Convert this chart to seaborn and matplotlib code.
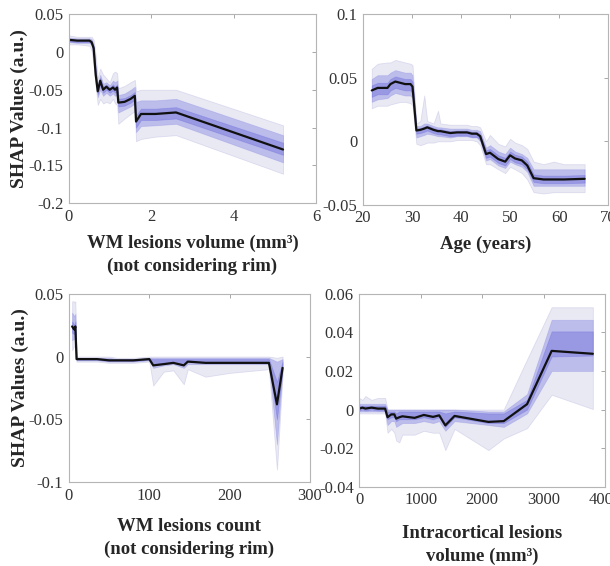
import pandas as pd
import matplotlib
matplotlib.use('Agg')
import matplotlib.pyplot as plt
import matplotlib.ticker as mticker
import seaborn as sns

# -----------------------------------------------
# Data (median + three quantile bands per panel)
# -----------------------------------------------
# WM lesions volume
vol_x = [0.0, 0.2, 0.4, 0.5, 0.55, 0.6, 0.65, 0.7, 0.76, 0.83, 0.91, 0.99, 1.07, 1.12, 1.17, 1.2, 1.35, 1.5, 1.6, 1.63, 1.75, 2.1, 2.6, 5.2]
vol_med = [0.016, 0.015, 0.015, 0.015, 0.013, 0.005, -0.030, -0.052, -0.038, -0.050, -0.046, -0.050, -0.047, -0.050, -0.047, -0.067, -0.066, -0.062, -0.058, -0.092, -0.082, -0.082, -0.080, -0.129]
vol_out_hi = [0.022, 0.020, 0.020, 0.020, 0.020, 0.016, -0.005, -0.035, -0.022, -0.030, -0.035, -0.040, -0.028, -0.026, -0.028, -0.048, -0.045, -0.040, -0.037, -0.052, -0.050, -0.050, -0.050, -0.097]
vol_out_lo = [0.010, 0.010, 0.009, 0.008, 0.002, -0.018, -0.045, -0.070, -0.062, -0.068, -0.066, -0.068, -0.062, -0.068, -0.070, -0.095, -0.088, -0.082, -0.078, -0.118, -0.115, -0.112, -0.110, -0.161]
vol_mid_hi = [0.019, 0.018, 0.018, 0.018, 0.017, 0.010, -0.020, -0.044, -0.030, -0.042, -0.040, -0.044, -0.038, -0.040, -0.038, -0.057, -0.055, -0.050, -0.046, -0.066, -0.064, -0.064, -0.062, -0.110]
vol_mid_lo = [0.013, 0.012, 0.012, 0.012, 0.009, -0.004, -0.038, -0.060, -0.050, -0.058, -0.054, -0.058, -0.055, -0.058, -0.057, -0.080, -0.076, -0.072, -0.068, -0.106, -0.098, -0.097, -0.095, -0.146]
vol_in_hi = [0.017, 0.016, 0.016, 0.016, 0.015, 0.008, -0.026, -0.048, -0.034, -0.046, -0.043, -0.047, -0.043, -0.046, -0.043, -0.062, -0.061, -0.057, -0.053, -0.084, -0.075, -0.075, -0.073, -0.120]
vol_in_lo = [0.014, 0.013, 0.013, 0.013, 0.011, 0.001, -0.034, -0.056, -0.043, -0.054, -0.050, -0.054, -0.051, -0.054, -0.051, -0.072, -0.071, -0.067, -0.063, -0.100, -0.090, -0.090, -0.088, -0.136]

# Age
age_x = [21.8, 23, 25, 25.6, 26.6, 27.6, 28.6, 29.7, 30.1, 30.9, 31.7, 32.5, 33.1, 34.4, 35.3, 35.8, 37.8, 39.2, 41.2, 42.2, 43.2, 43.9, 45.1, 45.9, 47.6, 49.0, 50.0, 51.0, 52.4, 53.5, 54.8, 56.8, 58.9, 61.0, 65.2]
age_med = [0.040, 0.042, 0.042, 0.045, 0.047, 0.046, 0.045, 0.045, 0.043, 0.0085, 0.009, 0.010, 0.011, 0.009, 0.008, 0.008, 0.0065, 0.007, 0.007, 0.006, 0.006, 0.004, -0.010, -0.009, -0.014, -0.016, -0.011, -0.0135, -0.015, -0.019, -0.029, -0.030, -0.030, -0.030, -0.0295]
age_out_hi = [0.057, 0.061, 0.062, 0.062, 0.064, 0.063, 0.062, 0.061, 0.060, 0.014, 0.016, 0.036, 0.016, 0.014, 0.024, 0.014, 0.013, 0.013, 0.013, 0.012, 0.012, 0.011, 0.000, 0.005, -0.002, -0.004, 0.002, -0.001, -0.003, -0.006, -0.016, -0.018, -0.016, -0.018, -0.018]
age_out_lo = [0.026, 0.028, 0.028, 0.029, 0.030, 0.031, 0.031, 0.030, 0.028, -0.002, -0.003, -0.002, -0.001, -0.001, 0.000, 0.000, 0.000, 0.001, 0.001, 0.001, 0.000, -0.003, -0.018, -0.018, -0.022, -0.025, -0.020, -0.022, -0.025, -0.030, -0.040, -0.041, -0.040, -0.040, -0.040]
age_mid_hi = [0.049, 0.052, 0.052, 0.054, 0.056, 0.055, 0.054, 0.054, 0.052, 0.012, 0.012, 0.014, 0.014, 0.012, 0.011, 0.011, 0.010, 0.010, 0.010, 0.009, 0.009, 0.008, -0.005, -0.003, -0.008, -0.010, -0.005, -0.008, -0.010, -0.013, -0.022, -0.022, -0.022, -0.022, -0.022]
age_mid_lo = [0.031, 0.033, 0.034, 0.036, 0.038, 0.037, 0.036, 0.036, 0.034, 0.003, 0.004, 0.005, 0.006, 0.005, 0.004, 0.004, 0.003, 0.004, 0.004, 0.003, 0.003, 0.000, -0.015, -0.014, -0.019, -0.021, -0.016, -0.018, -0.020, -0.024, -0.035, -0.035, -0.035, -0.035, -0.035]
age_in_hi = [0.044, 0.046, 0.046, 0.049, 0.051, 0.050, 0.049, 0.049, 0.047, 0.010, 0.0105, 0.0115, 0.0125, 0.0105, 0.0095, 0.0095, 0.008, 0.0085, 0.0085, 0.0075, 0.0075, 0.0055, -0.007, -0.006, -0.011, -0.013, -0.008, -0.0105, -0.012, -0.016, -0.026, -0.027, -0.027, -0.027, -0.0265]
age_in_lo = [0.035, 0.037, 0.037, 0.040, 0.042, 0.041, 0.040, 0.040, 0.038, 0.006, 0.0065, 0.0075, 0.0085, 0.0065, 0.0055, 0.0055, 0.004, 0.0045, 0.0045, 0.0035, 0.0035, 0.0015, -0.013, -0.012, -0.017, -0.019, -0.014, -0.0165, -0.018, -0.022, -0.032, -0.033, -0.033, -0.033, -0.0325]

# WM lesions count
cnt_x = [4, 6, 7, 8, 9.5, 20, 35, 50, 60, 80, 100, 105, 118, 130, 143, 148, 170, 200, 249, 259, 266]
cnt_med = [0.024, 0.022, 0.0215, 0.024, -0.002, -0.002, -0.002, -0.003, -0.003, -0.003, -0.002, -0.007, -0.006, -0.005, -0.007, -0.004, -0.005, -0.005, -0.005, -0.038, -0.009]
cnt_out_hi = [0.044, 0.044, 0.043, 0.044, 0.000, 0.000, 0.000, 0.000, -0.001, -0.001, 0.000, 0.000, 0.000, 0.000, 0.000, 0.000, 0.000, 0.000, 0.000, -0.001, 0.000]
cnt_out_lo = [0.005, 0.008, 0.008, 0.010, -0.004, -0.004, -0.004, -0.005, -0.005, -0.005, -0.004, -0.023, -0.012, -0.011, -0.022, -0.010, -0.016, -0.013, -0.010, -0.090, -0.014]
cnt_mid_hi = [0.035, 0.033, 0.032, 0.034, -0.001, -0.001, -0.001, -0.001, -0.002, -0.002, -0.001, -0.001, -0.001, -0.001, -0.001, -0.001, -0.001, -0.001, -0.001, -0.004, -0.002]
cnt_mid_lo = [0.013, 0.014, 0.014, 0.016, -0.003, -0.003, -0.003, -0.004, -0.004, -0.004, -0.003, -0.009, -0.007, -0.006, -0.009, -0.006, -0.006, -0.006, -0.006, -0.070, -0.011]
cnt_in_hi = [0.028, 0.026, 0.025, 0.028, -0.0015, -0.0015, -0.0015, -0.002, -0.002, -0.002, -0.0015, -0.002, -0.002, -0.002, -0.002, -0.002, -0.002, -0.002, -0.002, -0.020, -0.004]
cnt_in_lo = [0.019, 0.018, 0.018, 0.020, -0.0025, -0.0025, -0.0025, -0.0035, -0.0035, -0.0035, -0.0025, -0.007, -0.006, -0.005, -0.007, -0.004, -0.005, -0.005, -0.005, -0.050, -0.010]

# Intracortical lesions volume
icv_x = [0, 50, 100, 200, 300, 420, 460, 520, 570, 600, 650, 700, 900, 1050, 1200, 1300, 1400, 1550, 2100, 2350, 2730, 3130, 3800]
icv_med = [0.0005, 0.001, 0.0005, 0.001, 0.0005, 0.0005, -0.004, -0.0025, -0.0025, -0.0047, -0.004, -0.0035, -0.0043, -0.0028, -0.0038, -0.003, -0.0082, -0.0033, -0.0064, -0.006, 0.0028, 0.0304, 0.0289]
icv_out_hi = [0.006, 0.005, 0.007, 0.005, 0.006, 0.006, 0.000, 0.000, 0.000, 0.000, 0.000, 0.000, 0.000, 0.000, 0.000, 0.000, 0.000, 0.000, 0.000, 0.000, 0.026, 0.053, 0.053]
icv_out_lo = [-0.002, -0.002, -0.002, -0.002, -0.002, -0.002, -0.012, -0.010, -0.012, -0.016, -0.017, -0.013, -0.013, -0.011, -0.012, -0.012, -0.021, -0.010, -0.021, -0.015, -0.0096, 0.0077, 0.0003]
icv_mid_hi = [0.003, 0.003, 0.003, 0.003, 0.003, 0.003, 0.000, 0.000, 0.000, 0.000, 0.000, 0.000, 0.000, 0.000, 0.000, 0.000, 0.000, 0.000, -0.001, -0.001, 0.008, 0.0465, 0.0465]
icv_mid_lo = [-0.001, -0.001, -0.001, -0.001, -0.001, -0.001, -0.008, -0.006, -0.006, -0.009, -0.008, -0.007, -0.007, -0.006, -0.007, -0.006, -0.011, -0.006, -0.008, -0.009, -0.002, 0.020, 0.020]
icv_in_hi = [0.002, 0.002, 0.002, 0.002, 0.002, 0.002, -0.001, -0.001, -0.001, -0.002, -0.001, -0.001, -0.001, -0.001, -0.001, -0.001, -0.002, -0.001, -0.002, -0.002, 0.005, 0.0405, 0.0405]
icv_in_lo = [-0.0005, 0.0, -0.0005, 0.0, -0.0005, -0.0005, -0.005, -0.004, -0.004, -0.006, -0.005, -0.005, -0.005, -0.004, -0.005, -0.004, -0.009, -0.004, -0.007, -0.007, 0.000, 0.0275, 0.028]

# -----------------------------------------------
# Style
# -----------------------------------------------
sns.set_style('white')
plt.rcParams['font.family'] = ['Liberation Serif', 'DejaVu Serif']
plt.rcParams['axes.unicode_minus'] = False

fig = plt.figure(figsize=(6.1, 5.66), dpi=100)

panels = [
    # (rect, x, med, bands, xlim, ylim, xticks, yticks, xlabel, ylabel?, xlabel pad)
    ([0.113, 0.641, 0.405, 0.334], vol_x, vol_med,
     [(vol_out_lo, vol_out_hi), (vol_mid_lo, vol_mid_hi), (vol_in_lo, vol_in_hi)],
     (0, 6), (-0.2, 0.05), [0, 2, 4, 6], [-0.2, -0.15, -0.1, -0.05, 0, 0.05],
     'WM lesions volume (mm³)\n(not considering rim)', True, 7),
    ([0.595, 0.638, 0.402, 0.337], age_x, age_med,
     [(age_out_lo, age_out_hi), (age_mid_lo, age_mid_hi), (age_in_lo, age_in_hi)],
     (20, 70), (-0.05, 0.1), [20, 30, 40, 50, 60, 70], [-0.05, 0, 0.05, 0.1],
     'Age (years)', False, 7),
    ([0.113, 0.148, 0.395, 0.333], cnt_x, cnt_med,
     [(cnt_out_lo, cnt_out_hi), (cnt_mid_lo, cnt_mid_hi), (cnt_in_lo, cnt_in_hi)],
     (0, 300), (-0.1, 0.05), [0, 100, 200, 300], [-0.1, -0.05, 0, 0.05],
     'WM lesions count\n(not considering rim)', True, 10),
    ([0.589, 0.140, 0.403, 0.341], icv_x, icv_med,
     [(icv_out_lo, icv_out_hi), (icv_mid_lo, icv_mid_hi), (icv_in_lo, icv_in_hi)],
     (0, 4000), (-0.04, 0.06), [0, 1000, 2000, 3000, 4000], [-0.04, -0.02, 0, 0.02, 0.04, 0.06],
     'Intracortical lesions\nvolume (mm³)', False, 12),
]

band_styles = [
    dict(color='#cfcfe8', alpha=0.45, edgecolor='#bcbce2', linewidth=0.6),
    dict(color='#6b6bdc', alpha=0.35, edgecolor='#8a8ae2', linewidth=0.6),
    dict(color='#5c5cd6', alpha=0.38, edgecolor='#6e6ee0', linewidth=0.6),
]

for rect, x, med, bands, xlim, ylim, xticks, yticks, xlabel, show_ylabel, pad in panels:
    ax = fig.add_axes(rect)
    for (lo, hi), st in zip(bands, band_styles):
        ax.fill_between(x, lo, hi, **st)
    df = pd.DataFrame({'x': x, 'shap': med})
    sns.lineplot(data=df, x='x', y='shap', ax=ax, color='#111111', linewidth=1.6)

    ax.set_xlim(*xlim)
    ax.set_ylim(*ylim)
    ax.set_xticks(xticks)
    ax.set_yticks(yticks)
    fmt = mticker.FuncFormatter(lambda v, p: '%g' % round(v, 6))
    ax.xaxis.set_major_formatter(fmt)
    ax.yaxis.set_major_formatter(fmt)
    ax.tick_params(direction='in', length=3, width=0.6, color='#9a9a9a',
                   labelsize=12, labelcolor='#333333', top=True, right=True, pad=4)
    for sp in ax.spines.values():
        sp.set_color('#b5b5b5')
        sp.set_linewidth(0.8)

    ax.set_xlabel(xlabel, fontsize=13.5, fontweight='bold', labelpad=pad, linespacing=1.45)
    if show_ylabel:
        ax.set_ylabel('SHAP Values (a.u.)', fontsize=14, fontweight='bold')
        ax.yaxis.set_label_coords(-0.165, 0.5)
    else:
        ax.set_ylabel('')

fig.savefig('out.png', dpi=100)
